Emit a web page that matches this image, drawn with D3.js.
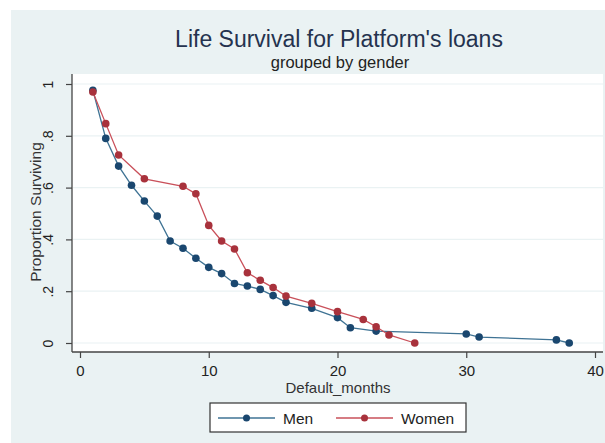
<!DOCTYPE html>
<html>
<head>
<meta charset="utf-8">
<script src="https://cdn.jsdelivr.net/npm/d3@7"></script>
<style>
  body { margin: 0; background: #fff; }
  text { font-family: Arial, "Liberation Sans", sans-serif; }
</style>
</head>
<body>
<svg id="chart" width="605" height="443"></svg>
<script>
// Data
var menMonths = [1, 2, 3, 4, 5, 6, 7, 8, 9, 10, 11, 12, 13, 14, 15, 16, 18, 20, 21, 23, 30, 31, 37, 38];
var menSurv = [0.976, 0.79, 0.683, 0.609, 0.548, 0.49, 0.394, 0.366, 0.327, 0.292, 0.268, 0.23, 0.22, 0.207, 0.183, 0.157, 0.134, 0.098, 0.059, 0.046, 0.035, 0.023, 0.012, 0.0];
var womenMonths = [1, 2, 3, 5, 8, 9, 10, 11, 12, 13, 14, 15, 16, 18, 20, 22, 23, 24, 26];
var womenSurv = [0.969, 0.847, 0.726, 0.634, 0.605, 0.576, 0.454, 0.394, 0.363, 0.271, 0.242, 0.214, 0.181, 0.153, 0.121, 0.091, 0.063, 0.031, 0.0];
var yTicks = [0, 0.2, 0.4, 0.6, 0.8, 1];
var yTickLabels = ["0", ".2", ".4", ".6", ".8", "1"];
var xTicks = [0, 10, 20, 30, 40];

var svg = d3.select("#chart");

// Stata-like background
svg.append("rect").attr("x", 11).attr("y", 10).attr("width", 594).attr("height", 433).attr("fill", "#eaf2f3");
svg.append("rect").attr("x", 72).attr("y", 74).attr("width", 531).attr("height", 278).attr("fill", "#ffffff");

var x = d3.scaleLinear().domain([0, 40]).range([80, 595]);
var y = d3.scaleLinear().domain([0, 1]).range([343, 84]);

// Gridlines
svg.append("g").selectAll("line")
    .data(yTicks)
    .enter().append("line")
    .attr("x1", 73).attr("x2", 603)
    .attr("y1", function(d) { return y(d); })
    .attr("y2", function(d) { return y(d); })
    .attr("stroke", "#eaf2f3")
    .attr("stroke-width", 1.2);

// Y axis (labels rotated like Stata)
var yAxis = d3.axisLeft(y)
    .tickValues(yTicks)
    .tickFormat(function(d, i) { return yTickLabels[i]; })
    .tickSize(6)
    .tickSizeOuter(0);
var gy = svg.append("g").attr("transform", "translate(72,0)").call(yAxis);
gy.select(".domain").remove();
gy.append("line").attr("x1", 0).attr("x2", 0).attr("y1", 74).attr("y2", 352).attr("stroke", "#444").attr("stroke-width", 1.3);
gy.selectAll(".tick line").attr("stroke", "#444").attr("stroke-width", 1.2);
gy.selectAll(".tick text")
    .attr("x", 0).attr("y", 0).attr("dy", 0)
    .attr("transform", "translate(-19,0) rotate(-90)")
    .attr("text-anchor", "middle")
    .attr("fill", "#222")
    .style("font-size", "14px");

// X axis
var xAxis = d3.axisBottom(x).tickValues(xTicks).tickSize(6).tickPadding(7).tickSizeOuter(0);
var gx = svg.append("g").attr("transform", "translate(0,352)").call(xAxis);
gx.select(".domain").remove();
gx.append("line").attr("x1", 72).attr("x2", 603).attr("y1", 0).attr("y2", 0).attr("stroke", "#444").attr("stroke-width", 1.3);
gx.selectAll(".tick line").attr("stroke", "#444").attr("stroke-width", 1.2);
gx.selectAll(".tick text").attr("fill", "#222").style("font-size", "15px");

// Axis titles
svg.append("text")
    .attr("transform", "translate(41,212) rotate(-90)")
    .attr("text-anchor", "middle")
    .attr("fill", "#333")
    .style("font-size", "15.5px")
    .text("Proportion Surviving");
svg.append("text")
    .attr("x", 338).attr("y", 393)
    .attr("text-anchor", "middle")
    .attr("fill", "#333")
    .style("font-size", "15px")
    .text("Default_months");

// Titles
svg.append("text")
    .attr("x", 339).attr("y", 47)
    .attr("text-anchor", "middle")
    .attr("fill", "#25334f")
    .style("font-size", "23px")
    .text("Life Survival for Platform's loans");
svg.append("text")
    .attr("x", 340).attr("y", 68)
    .attr("text-anchor", "middle")
    .attr("fill", "#222")
    .style("font-size", "16.5px")
    .text("grouped by gender");

// Series
var series = [
    { name: "Men", months: menMonths, surv: menSurv, line: "#3f7394", marker: "#1a476f" },
    { name: "Women", months: womenMonths, surv: womenSurv, line: "#c9505a", marker: "#a8323c" }
];

var line = d3.line()
    .x(function(d) { return x(d[0]); })
    .y(function(d) { return y(d[1]); });

series.forEach(function(s) {
    var pts = s.months.map(function(m, i) { return [m, s.surv[i]]; });
    svg.append("path")
        .datum(pts)
        .attr("d", line)
        .attr("fill", "none")
        .attr("stroke", s.line)
        .attr("stroke-width", 1.3);
    svg.append("g").selectAll("circle")
        .data(pts)
        .enter().append("circle")
        .attr("cx", function(d) { return x(d[0]); })
        .attr("cy", function(d) { return y(d[1]); })
        .attr("r", 3.8)
        .attr("fill", s.marker);
});

// Legend
var legend = svg.append("g");
legend.append("rect")
    .attr("x", 210).attr("y", 403).attr("width", 256).attr("height", 29)
    .attr("fill", "#fff").attr("stroke", "#333").attr("stroke-width", 1.2);
var legendX = [218, 336];
series.forEach(function(s, i) {
    var lx = legendX[i];
    legend.append("line")
        .attr("x1", lx).attr("x2", lx + 57).attr("y1", 418).attr("y2", 418)
        .attr("stroke", s.line).attr("stroke-width", 1.3);
    legend.append("circle")
        .attr("cx", lx + 28.5).attr("cy", 418).attr("r", 3.5).attr("fill", s.marker);
    legend.append("text")
        .attr("x", lx + 65).attr("y", 423.5)
        .attr("fill", "#222")
        .style("font-size", "15.5px")
        .text(s.name);
});
</script>
</body>
</html>
